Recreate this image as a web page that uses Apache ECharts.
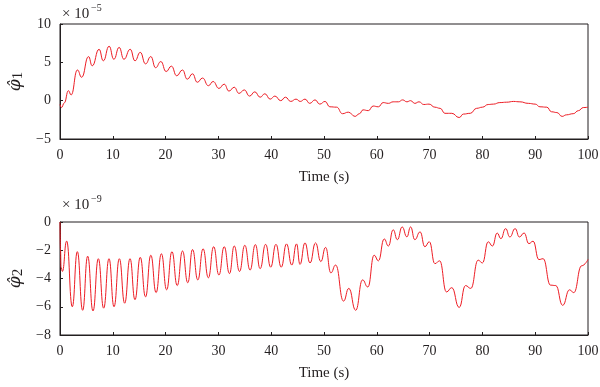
<!DOCTYPE html>
<html><head><meta charset="utf-8">
<script src="https://cdn.jsdelivr.net/npm/echarts@6/dist/echarts.min.js"></script>
<style>html,body{margin:0;padding:0;background:#fff}#c{width:600px;height:387px}</style>
</head><body><div id="c"></div>
<script>
// top panel: phi1 (x 1e-5)
const t1 = [0,0.3,0.8,1.6,2.1,3.3,4.1,5.4,6.1,7.4,8.2,9.3,10.2,11.2,12.1,13.3,14.2,15.2,16.2,17.2,18.1,19.1,20.1,21.1,22.1,23.2,24.1,25.1,26.0,27.0,28.1,29.0,30.1,31.1,32.0,33.0,33.9,34.9,35.9,36.9,37.9,38.8,39.8,40.7,41.8,42.7,43.7,44.7,45.5,46.4,47.3,48.3,49.2,50.2,51.1,52.4,53.5,54.6,55.9,56.7,57.4,58.4,59.3,60.3,61.2,62.2,63.1,64.1,64.9,65.7,66.4,67.2,68.0,68.9,69.9,71.0,72.0,72.9,74.2,75.6,76.4,77.7,78.9,80.0,81.1,82.1,83.3,84.6,85.9,87.1,88.7,90.0,90.9,92.2,93.1,94.1,95.1,95.9,97.2,98.2,99.1,100];
const v1 = [-0.5,-0.9,-0.3,1.3,0.75,4.0,3.05,5.75,4.55,6.7,5.2,7.1,5.4,6.95,5.4,6.7,5.2,6.3,4.8,5.75,4.3,5.1,3.8,4.5,3.25,4.0,2.8,3.5,2.4,2.95,1.95,2.5,1.6,2.15,1.25,1.75,0.95,1.4,0.6,1.15,0.45,0.9,0.2,0.6,0.0,0.45,-0.1,0.2,-0.1,0.2,-0.35,0.1,-0.45,-0.1,-0.8,-0.85,-1.7,-1.5,-2.05,-1.7,-1.2,-1.3,-0.7,-0.8,-0.25,-0.35,-0.15,-0.15,0.1,-0.15,0.0,-0.35,-0.15,-0.5,-0.45,-0.85,-1.0,-1.65,-1.65,-2.2,-1.75,-1.65,-1.0,-0.85,-0.5,-0.45,-0.25,-0.2,-0.1,-0.15,-0.35,-0.45,-0.8,-0.85,-1.45,-1.55,-2.05,-1.85,-1.7,-1.3,-0.9,-0.85];
// bottom panel: phi2 (x 1e-9)
const t2 = [0,0.1,0.2,0.45,1.26,2.33,3.28,4.29,5.24,6.25,7.26,8.27,9.28,10.23,11.24,12.25,13.26,14.2,15.2,16.2,17.2,18.2,19.2,20.2,21.2,22.2,23.2,24.2,25.1,26.1,27.1,28.1,29.1,30.1,31.1,32.1,33.0,34.0,35.0,36.0,37.0,37.9,38.95,39.9,40.9,41.9,42.9,43.9,44.8,45.45,46.4,47.35,48.4,49.4,50.3,51.3,52.2,53.7,54.7,56.0,57.3,58.3,59.5,60.3,61.4,62.2,63.1,63.9,64.8,65.7,66.4,67.2,68.2,69.1,69.95,71.0,71.9,73.2,74.2,75.6,76.8,77.8,79.2,80.0,81.1,81.9,82.8,83.5,84.4,85.2,86.2,87.0,87.9,88.8,89.6,90.7,91.5,92.9,93.9,95.2,96.5,97.3,98.8,100];
const v2 = [0,-2.0,-3.2,-3.5,-1.35,-6.0,-2.1,-6.25,-2.42,-6.3,-2.6,-6.1,-2.6,-6.0,-2.6,-5.75,-2.6,-5.5,-2.5,-5.3,-2.35,-5.0,-2.25,-4.8,-2.1,-4.5,-2.05,-4.3,-1.95,-4.1,-1.9,-3.95,-1.75,-3.75,-1.75,-3.65,-1.7,-3.5,-1.65,-3.4,-1.6,-3.3,-1.58,-3.2,-1.58,-3.2,-1.55,-3.05,-1.55,-3.0,-1.48,-2.9,-1.48,-2.8,-1.8,-3.6,-3.05,-5.6,-4.7,-6.25,-4.1,-4.6,-2.35,-2.75,-1.2,-1.7,-0.55,-1.25,-0.35,-1.05,-0.35,-1.25,-0.7,-1.75,-1.4,-2.95,-2.75,-4.95,-4.65,-6.05,-4.5,-4.7,-2.7,-2.9,-1.4,-1.7,-0.78,-1.18,-0.47,-1.06,-0.47,-1.06,-0.78,-1.53,-1.36,-2.66,-2.6,-4.47,-4.5,-5.9,-4.8,-5.0,-3.1,-2.65];
const xTicks = [0,10,20,30,40,50,60,70,80,90,100];
const y1Ticks = [-5,0,5,10];
const y2Ticks = [-8,-6,-4,-2,0];

const FONT = '"Liberation Serif","DejaVu Serif",serif';
const PHI_FONT = '"DejaVu Serif",serif';
const TXT = '#231f20';
const RED = '#ed1c24';

function xAxis(idx){
  return {
    type:'value', gridIndex: idx, min: xTicks[0], max: xTicks[xTicks.length-1], interval: 10,
    name: 'Time (s)', nameLocation:'middle', nameGap: 31,
    nameTextStyle:{fontFamily:FONT, fontSize:15, color:TXT},
    axisLine:{show:true, onZero:false, lineStyle:{color:'#231f20', width:1}},
    axisTick:{show:true, inside:true, length:3, lineStyle:{color:'#231f20'}},
    axisLabel:{fontFamily:FONT, fontSize:14, color:TXT, margin:9},
    splitLine:{show:false}
  };
}
function yAxis(idx, ticks, sub){
  return {
    type:'value', gridIndex: idx, min: ticks[0], max: ticks[ticks.length-1], interval: ticks[1]-ticks[0],
    name: '{a|φ̂}{b|' + sub + '}', nameLocation:'middle', nameGap: 32, nameRotate: 90,
    nameTextStyle:{rich:{
      a:{fontFamily:PHI_FONT, fontStyle:'italic', fontSize:17, color:TXT},
      b:{fontFamily:FONT, fontSize:15, color:TXT, padding:[5,0,0,0]}
    }},
    axisLine:{show:true, onZero:false, lineStyle:{color:'#231f20', width:1}},
    axisTick:{show:true, inside:true, length:3, lineStyle:{color:'#231f20'}},
    axisLabel:{fontFamily:FONT, fontSize:14, color:TXT, margin:9,
      formatter: v => (v<0 ? '\u2212' + Math.abs(v) : String(v))},
    splitLine:{show:false}
  };
}
function pairs(t, v){ return t.map((x,i)=>[x, v[i]]); }

const chart = echarts.init(document.getElementById('c'), null, {renderer:'canvas'});
chart.setOption({
  animation:false,
  backgroundColor:'#fff',
  grid:[
    {left:60, right:12, top:24, height:115, show:true, borderColor:'#231f20', borderWidth:1, backgroundColor:'transparent', containLabel:false, outerBoundsMode:'none'},
    {left:60, right:12, top:222, height:113, show:true, borderColor:'#231f20', borderWidth:1, backgroundColor:'transparent', containLabel:false, outerBoundsMode:'none'}
  ],
  xAxis:[xAxis(0), xAxis(1)],
  yAxis:[yAxis(0, y1Ticks, '1'), yAxis(1, y2Ticks, '2')],
  series:[
    {type:'line', xAxisIndex:0, yAxisIndex:0, data:pairs(t1,v1), showSymbol:false, smooth:0.5, smoothMonotone:'x',
     lineStyle:{color:RED, width:1}, itemStyle:{color:RED}},
    {type:'line', xAxisIndex:1, yAxisIndex:1, data:pairs(t2,v2), showSymbol:false, smooth:0.5, smoothMonotone:'x',
     lineStyle:{color:RED, width:1}, itemStyle:{color:RED}}
  ],
  graphic:[
    {type:'text', left:62, top:7, style:{text:'× 10', font:'15px '+FONT, fill:TXT}},
    {type:'text', left:91, top:3, style:{text:'\u22125', font:'10px '+FONT, fill:TXT}},
    {type:'text', left:62, top:198, style:{text:'× 10', font:'15px '+FONT, fill:TXT}},
    {type:'text', left:91, top:194, style:{text:'\u22129', font:'10px '+FONT, fill:TXT}}
  ]
});
</script></body></html>
